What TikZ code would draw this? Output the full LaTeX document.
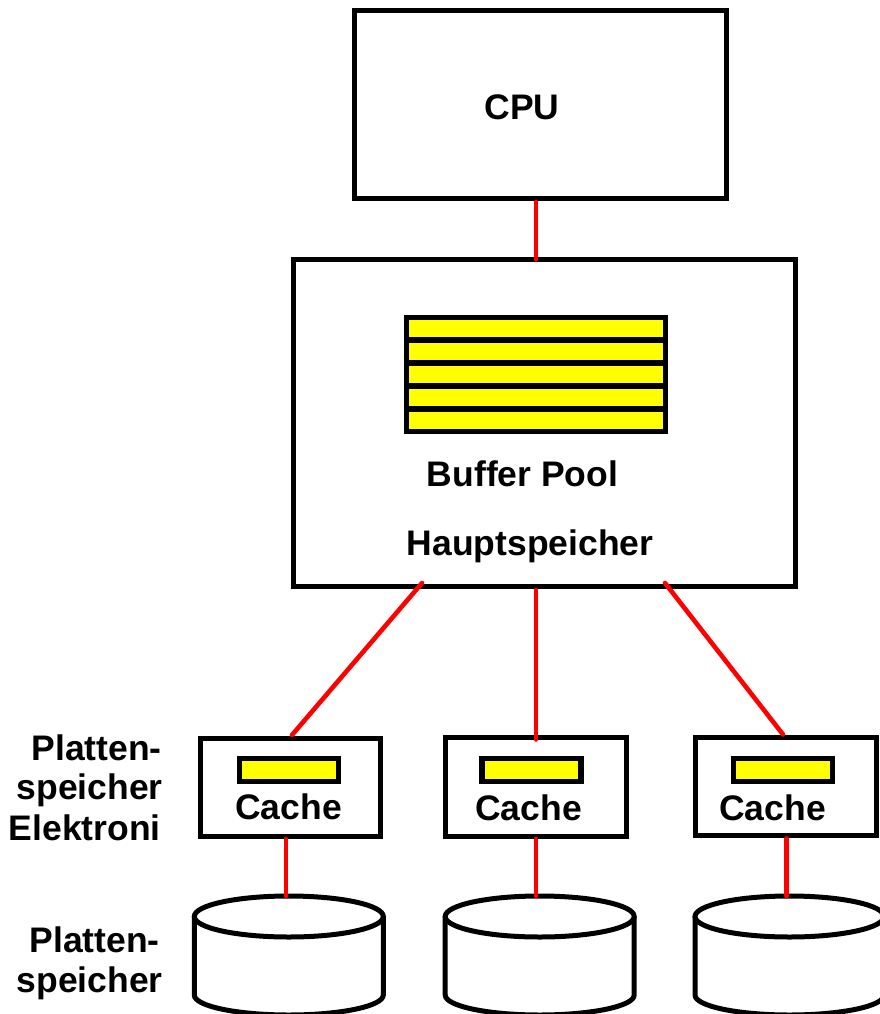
\documentclass[tikz,border=0pt]{standalone}
\usepackage{fontspec}
\setmainfont{Liberation Sans}
\usetikzlibrary{calc}
\definecolor{wirered}{RGB}{255,0,0}
\definecolor{bufyellow}{RGB}{255,255,0}
\begin{document}
\begin{tikzpicture}[x=1pt,y=-1pt,
  frame/.style={draw=black, line width=5pt, inner sep=0pt, outer sep=0pt},
  bufbox/.style={draw=black, fill=bufyellow, line width=5.5pt, inner sep=0pt, outer sep=0pt},
  wire/.style={draw=wirered, line width=4.6pt, line cap=round},
  lbl/.style={font=\fontsize{35.5}{40}\selectfont\bfseries, inner sep=0pt, anchor=base},
  sidelbl/.style={lbl, anchor=base east},
  disk/.style={draw=black, line width=5pt}]

\useasboundingbox (0,0) rectangle (879,1014);

% processor and main memory
\node[frame, minimum width=372pt, minimum height=187pt] (cpu) at (540,104.5) {};
\node[frame, minimum width=502pt, minimum height=326.5pt] (main) at (544,422.75) {};

% buffer pool: five frames
\node[bufbox, minimum width=259pt, minimum height=114pt] (pool) at (536,374.5) {};
\foreach \k in {1,...,4}
  \draw[line width=6pt] ($(pool.north west)!\k/5!(pool.south west)$) -- ($(pool.north east)!\k/5!(pool.south east)$);

% disk controllers with their caches
\node[frame, minimum width=180pt, minimum height=98pt] (cache1) at (290,787) {};
\node[frame, minimum width=181pt, minimum height=98.5pt] (cache2) at (535.5,786.75) {};
\node[frame, minimum width=181pt, minimum height=98pt] (cache3) at (786,786.5) {};
\node[bufbox, minimum width=99pt, minimum height=23pt] (buf1) at (289,770) {};
\node[bufbox, minimum width=99pt, minimum height=23pt] (buf2) at (531.5,770) {};
\node[bufbox, minimum width=99pt, minimum height=23pt] (buf3) at (783,770) {};

% disks
\foreach \cx/\n in {288.8/disk1, 539.7/disk2, 789.5/disk3} {
  \draw[disk] (\cx,916.5) ellipse [x radius=94.5pt, y radius=20.5pt];
  \draw[disk] (\cx-94.5,916.5) -- (\cx-94.5,995)
    arc[start angle=180, end angle=360, x radius=94.5pt, y radius=20pt] -- (\cx+94.5,916.5);
  \coordinate (\n) at (\cx,896);
}

% connections
\draw[wire] ([xshift=-4pt,yshift=-4pt]cpu.south) -- ([xshift=-4pt]cpu.south |- main.north);
\draw[wire] ([xshift=-122pt,yshift=3pt]main.south) -- ([xshift=2pt,yshift=3pt]cache1.north);
\draw[wire] ([xshift=0.5pt,yshift=-4pt]cache2.north |- main.south) -- ([xshift=0.5pt,yshift=-2pt]cache2.north);
\draw[wire] ([xshift=121pt,yshift=3pt]main.south) -- ([xshift=-3pt,yshift=3pt]cache3.north);
\draw[wire] ([xshift=-4pt,yshift=-3pt]cache1.south) -- ([xshift=-4pt]cache1.south |- disk1);
\draw[wire] ([xshift=0.5pt,yshift=-3pt]cache2.south) -- ([xshift=0.5pt]cache2.south |- disk2);
\draw[wire] ([xshift=0.7pt,yshift=-3pt]cache3.south) -- ([xshift=0.7pt]cache3.south |- disk3);

% labels
\node[lbl] (tcpu) at (522,120) {CPU};
\node[lbl] (tpool) at (522.5,486.5) {Buffer Pool};
\node[lbl] (tmain) at (530,555) {Hauptspeicher};
\node[lbl] (tcache1) at (288.5,819) {Cache};
\node[lbl] (tcache2) at (528.5,820) {Cache};
\node[lbl] (tcache3) at (772.5,820) {Cache};

\node[sidelbl] (ctl1) at (162,760) {Platten-};
\node[sidelbl] (ctl2) at (163,799) {speicher};
\node[sidelbl] (ctl3) at (161,840) {Elektroni};
\node[sidelbl] (dsk1) at (160,952) {Platten-};
\node[sidelbl] (dsk2) at (163,992) {speicher};
\end{tikzpicture}
\end{document}
